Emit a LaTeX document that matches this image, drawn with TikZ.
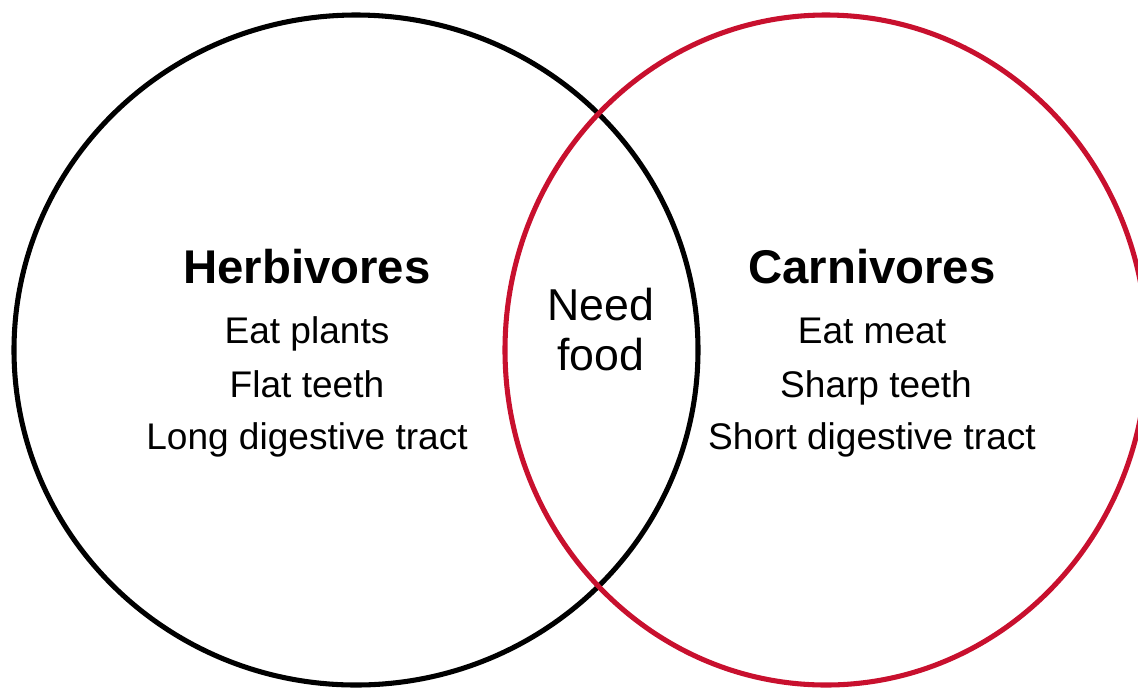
\documentclass[tikz,border=0pt]{standalone}
\usepackage{fontspec}
\setmainfont{Liberation Sans}
\definecolor{carnred}{RGB}{200,16,46}
\begin{document}
\begin{tikzpicture}[x=0.75pt, y=-0.75pt, line width=3.8pt,
        every node/.style={inner sep=0pt, anchor=base},
        heading/.style={font=\fontsize{35.5}{40}\selectfont\bfseries},
        item/.style={font=\fontsize{27.8}{32}\selectfont},
        shared/.style={font=\fontsize{33.5}{37}\selectfont}]
                \useasboundingbox (0,0) rectangle (1138,687);
                \draw (356,350) ellipse (342 and 335);
                \draw[carnred] (826,350) ellipse (321 and 335);
                \node[heading] (herb) at (307,283) {Herbivores};
                \node[item] (herb1) at (307,343) {Eat plants};
                \node[item] (herb2) at (307,397) {Flat teeth};
                \node[item] (herb3) at (307,449) {Long digestive tract};
                \node[heading] (carn) at (872,283) {Carnivores};
                \node[item] (carn1) at (872,343) {Eat meat};
                \node[item] (carn2) at (876,397) {Sharp teeth};
                \node[item] (carn3) at (872,449) {Short digestive tract};
                \node[shared] (need) at (601,320) {Need};
                \node[shared] (food) at (601,370) {food};
            \end{tikzpicture}
\end{document}
